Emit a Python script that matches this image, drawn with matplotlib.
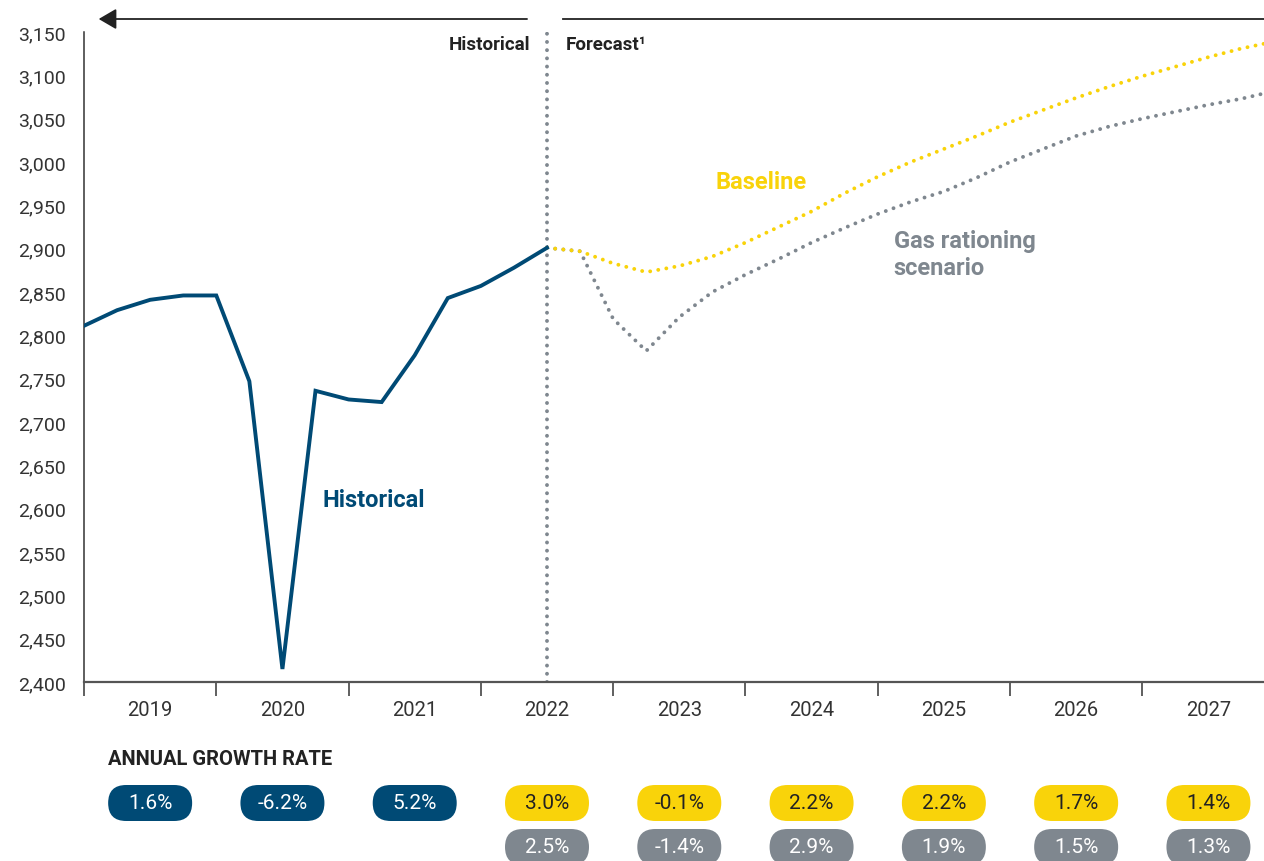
import matplotlib
matplotlib.use("Agg")
import matplotlib.pyplot as plt
from matplotlib.patches import FancyBboxPatch
from matplotlib.ticker import FuncFormatter, FixedLocator

plt.rcParams['font.family'] = ['Roboto', 'DejaVu Sans']

NAVY = '#004a75'
GOLD = '#f9d30a'
GREY = '#7f878f'
DARK = '#222222'

# quarterly GDP level (index)
hist_x = [2019.0, 2019.25, 2019.5, 2019.75, 2020.0, 2020.25, 2020.5, 2020.75,
          2021.0, 2021.25, 2021.5, 2021.75, 2022.0, 2022.25, 2022.5]
hist_y = [2811, 2829, 2841, 2846, 2846, 2747, 2415, 2736,
          2726, 2723, 2777, 2843, 2857, 2878, 2901]

fc_x = [2022.5, 2022.75, 2023.0, 2023.25, 2023.5, 2023.75, 2024.0, 2024.25,
        2024.5, 2024.75, 2025.0, 2025.25, 2025.5, 2025.75, 2026.0, 2026.25,
        2026.5, 2026.75, 2027.0, 2027.25, 2027.5, 2027.75, 2028.0]
baseline = [2901, 2897, 2883, 2873, 2880, 2891, 2907, 2925,
            2943, 2964, 2983, 3000, 3015, 3030, 3046, 3060,
            3074, 3087, 3099, 3110, 3121, 3131, 3139]
gas = [2901, 2897, 2819, 2782, 2821, 2850, 2870, 2888,
       2907, 2924, 2940, 2954, 2966, 2982, 3000, 3015,
       3030, 3041, 3050, 3058, 3066, 3073, 3082]

years = [2019, 2020, 2021, 2022, 2023, 2024, 2025, 2026, 2027]
hist_growth = ['1.6%', '-6.2%', '5.2%']
base_growth = ['3.0%', '-0.1%', '2.2%', '2.2%', '1.7%', '1.4%']
gas_growth = ['2.5%', '-1.4%', '2.9%', '1.9%', '1.5%', '1.3%']

W, H = 1264, 862
fig = plt.figure(figsize=(W / 100, H / 100), dpi=100)
ax = fig.add_axes([84 / W, 1 - 683 / H, 1 - 84 / W, 650 / H])

ax.plot(hist_x, hist_y, color=NAVY, lw=2.8, solid_joinstyle='miter', zorder=4)
dots = dict(lw=2.8, dashes=(0.01, 2.1), dash_capstyle='round')
ax.plot(fc_x, gas, color=GREY, zorder=3, **dots)
ax.plot(fc_x, baseline, color=GOLD, zorder=3, **dots)
ax.axvline(2022.5, color=GREY, zorder=2, **dots)

ax.set_xlim(2019, 2027.92)
ax.set_ylim(2400, 3150)

ax.set_yticks(range(2400, 3151, 50))
ax.yaxis.set_major_formatter(FuncFormatter(lambda v, p: f'{int(v):,}'))
ax.tick_params(axis='y', length=0, pad=13, labelsize=14, labelcolor='#333333')

ax.xaxis.set_major_locator(FixedLocator(years))
ax.xaxis.set_minor_locator(FixedLocator([y + 0.5 for y in years]))
ax.xaxis.set_major_formatter(FuncFormatter(lambda v, p: ''))
ax.set_xticklabels([str(y) for y in years], minor=True)
ax.tick_params(axis='x', which='major', length=10, width=1.2, color='#444444')
ax.tick_params(axis='x', which='minor', length=0, pad=13, labelsize=14.5,
               labelcolor='#333333')

for s in ['top', 'right']:
    ax.spines[s].set_visible(False)
ax.spines['left'].set_color('#333333')
ax.spines['left'].set_linewidth(1.1)
ax.spines['bottom'].set_color('#555555')
ax.spines['bottom'].set_linewidth(1.6)

# top arrow line and period labels
ya = (683 - 20) / 650
ax.annotate('', xy=(2019.09, ya), xytext=(2022.37, ya), xycoords=('data', 'axes fraction'),
            arrowprops=dict(arrowstyle='-|>,head_length=0.6,head_width=0.35',
                            color=DARK, lw=1.3, mutation_scale=18), annotation_clip=False)
ax.plot([2022.62, 2027.92], [ya, ya], color=DARK, lw=1.3, clip_on=False,
        transform=ax.get_xaxis_transform())
yl = (683 - 45) / 650
ax.text(2022.37, yl, 'Historical', transform=ax.get_xaxis_transform(), ha='right',
        va='center', fontsize=13.5, fontweight='bold', color=DARK)
ax.text(2022.64, yl, 'Forecast¹', transform=ax.get_xaxis_transform(), ha='left',
        va='center', fontsize=13.5, fontweight='bold', color=DARK)

ax.text(2023.77, 2977, 'Baseline', color=GOLD, fontsize=17, fontweight='bold',
        va='center')
ax.text(2025.12, 2894, 'Gas rationing\nscenario', color=GREY, fontsize=17,
        fontweight='bold', va='center', linespacing=1.2)
ax.text(2020.8, 2611, 'Historical', color=NAVY, fontsize=17, fontweight='bold',
        va='center')

# annual growth rate pills
fig.text(108 / W, 1 - 760 / H, 'ANNUAL GROWTH RATE', fontsize=14.5,
         fontweight='bold', color=DARK, va='center')
pax = fig.add_axes([0, 0, 1, 1], zorder=-1)
pax.set_xlim(0, W)
pax.set_ylim(0, H)
pax.axis('off')


def pill(xc, yc, txt, face, tc):
    pw, ph = 84, 36
    pax.add_patch(FancyBboxPatch((xc - pw / 2, yc - ph / 2), pw, ph,
                                 boxstyle=f'round,pad=0,rounding_size={ph / 2}',
                                 fc=face, ec='none'))
    pax.text(xc, yc, txt, ha='center', va='center', fontsize=15, color=tc)


def xpix(yr):
    return ax.transData.transform((yr + 0.5, 2400))[0]


for yr, g in zip(years[:3], hist_growth):
    pill(xpix(yr), H - 804, g, NAVY, 'white')
for yr, g in zip(years[3:], base_growth):
    pill(xpix(yr), H - 804, g, GOLD, DARK)
for yr, g in zip(years[3:], gas_growth):
    pill(xpix(yr), H - 848, g, GREY, 'white')

fig.savefig('out.png', dpi=100)
